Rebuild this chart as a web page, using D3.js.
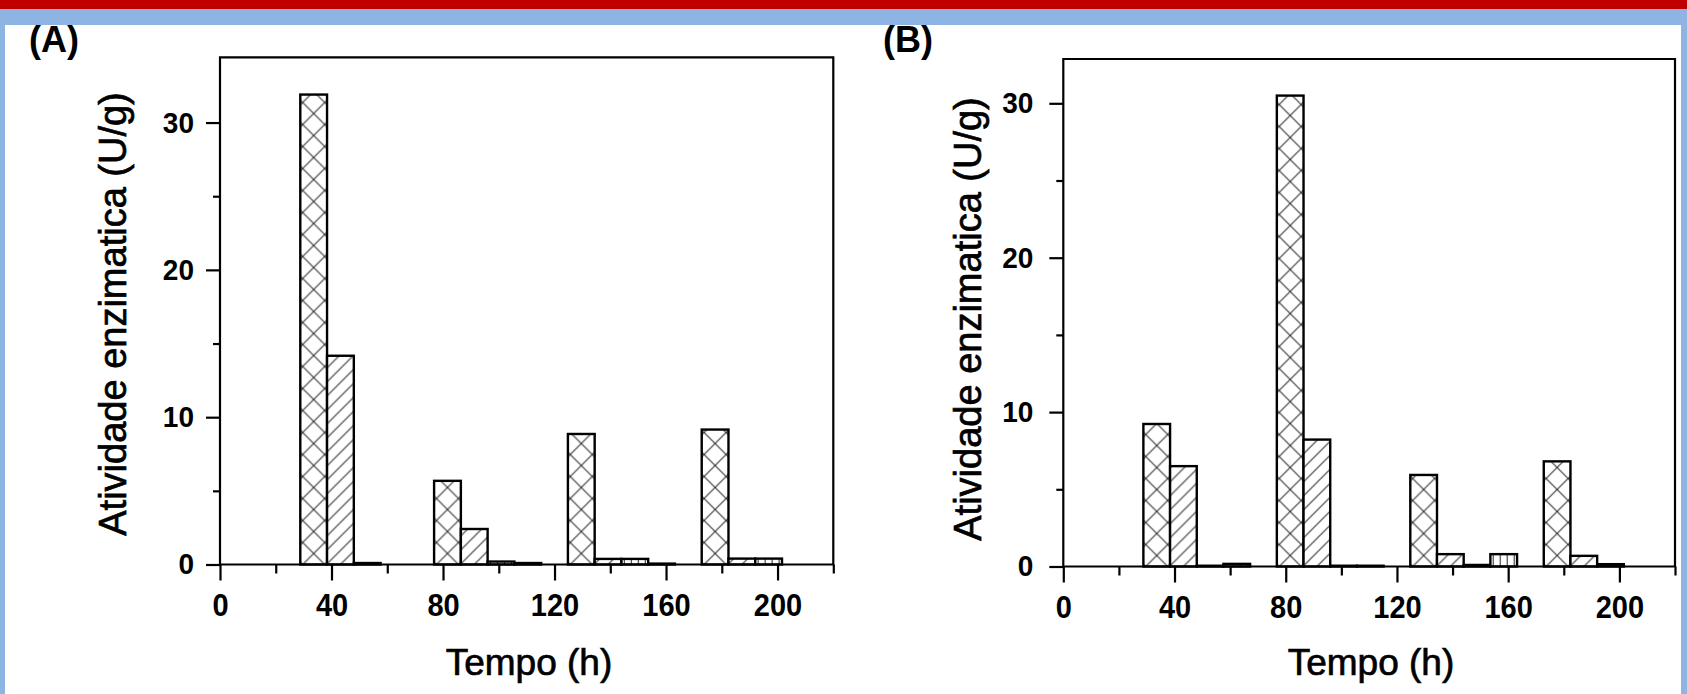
<!DOCTYPE html>
<html>
<head>
<meta charset="utf-8">
<script src="https://cdn.jsdelivr.net/npm/d3@7"></script>
<style>
  body { margin: 0; background: #fff; }
  svg { display: block; font-family: Arial, "Liberation Sans", sans-serif; }
</style>
</head>
<body>
<svg id="chart" width="1687" height="694"></svg>
<script>
// sampling times (h) and the four bars of every group
const hours = [48, 96, 144, 192];
const patterns = ['cross', 'diag', 'vert', 'vert'];

// panel A values (U/g)
const aCross = [31.9, 5.68, 8.86, 9.16];
const aDiag = [14.17, 2.41, 0.38, 0.4];
const aVert = [0.1, 0.2, 0.38, 0.4];
const aLast = [0, 0.1, 0.06, 0];

// panel B values (U/g)
const bCross = [9.23, 30.5, 5.93, 6.81];
const bDiag = [6.5, 8.22, 0.8, 0.69];
const bVert = [0.05, 0.05, 0.1, 0.15];
const bLast = [0.17, 0.05, 0.8, 0];

const xTicks = [0, 40, 80, 120, 160, 200];
const xMinor = [20, 60, 100, 140, 180, 220];
const yTicks = [0, 10, 20, 30];
const yMinor = [5, 15, 25];

const barWidth = 9.6; // hours

const svg = d3.select('#chart');
const defs = svg.append('defs');
let patId = 0;

// page decoration (slide borders)
svg.append('rect').attr('width', 1687).attr('height', 694).attr('fill', '#fff');
svg.append('rect').attr('x', 0).attr('y', 9).attr('width', 1687).attr('height', 16).attr('fill', '#8db4e2');
svg.append('rect').attr('x', 0).attr('y', 0).attr('width', 1687).attr('height', 9).attr('fill', '#c00000');
svg.append('rect').attr('x', 0).attr('y', 25).attr('width', 5).attr('height', 669).attr('fill', '#8db4e2');
svg.append('rect').attr('x', 1681).attr('y', 25).attr('width', 6).attr('height', 669).attr('fill', '#8db4e2');

function makePattern(kind, cx, by) {
    let id = 'p' + (patId++);
    let p = defs.append('pattern')
        .attr('id', id)
        .attr('patternUnits', 'userSpaceOnUse');
    let stroke = '#333';
    if (kind === 'cross') {
        let d = 22;
        p.attr('x', cx - d / 2).attr('y', by).attr('width', d).attr('height', d);
        p.append('rect').attr('width', d).attr('height', d).attr('fill', '#fff');
        p.append('path').attr('d', `M0,0L${d},${d}M0,${d}L${d},0`)
            .attr('stroke', stroke).attr('stroke-width', 1.1);
    } else if (kind === 'diag') {
        let d = 14;
        p.attr('x', cx).attr('y', by).attr('width', d).attr('height', d);
        p.append('rect').attr('width', d).attr('height', d).attr('fill', '#fff');
        p.append('path').attr('d', `M0,${d}L${d},0M-2,2L2,-2M${d - 2},${d + 2}L${d + 2},${d - 2}`)
            .attr('stroke', stroke).attr('stroke-width', 1.1);
    } else {
        let d = 7;
        p.attr('x', cx).attr('y', by).attr('width', d).attr('height', 10);
        p.append('rect').attr('width', d).attr('height', 10).attr('fill', '#fff');
        p.append('path').attr('d', `M${d / 2},0V10`)
            .attr('stroke', stroke).attr('stroke-width', 1.1);
    }
    return 'url(#' + id + ')';
}

function drawPanel(cfg) {
    let x = d3.scaleLinear().domain([0, 220]).range([cfg.left, cfg.right]);
    let y = d3.scaleLinear().domain([0, cfg.yMax]).range([cfg.bottom, cfg.top]);
    let g = svg.append('g');

    // bars
    let bars = [];
    cfg.series.forEach(function(values, si) {
        values.forEach(function(v, gi) {
            if (v <= 0) return;
            bars.push({h: hours[gi] - 2 * barWidth + si * barWidth, v: v, kind: patterns[si]});
        });
    });
    g.selectAll('rect.bar')
        .data(bars)
        .enter()
        .append('rect')
        .attr('class', 'bar')
        .attr('x', d => x(d.h))
        .attr('width', d => x(d.h + barWidth) - x(d.h))
        .attr('y', d => y(d.v))
        .attr('height', d => y(0) - y(d.v))
        .attr('fill', d => makePattern(d.kind, x(d.h + barWidth / 2), y(0)))
        .attr('stroke', '#000')
        .attr('stroke-width', 2.4);

    // frame
    g.append('path')
        .attr('d', `M${cfg.left},${cfg.bottom}V${cfg.top}H${cfg.right}V${cfg.bottom}Z`)
        .attr('fill', 'none')
        .attr('stroke', '#000')
        .attr('stroke-width', 2.2);

    // y axis
    let yAxis = g.append('g')
        .attr('transform', `translate(${cfg.left},0)`)
        .call(d3.axisLeft(y).tickValues(yTicks).tickSize(14).tickPadding(cfg.yPad).tickFormat(d3.format('d')));
    let yAxisMinor = g.append('g')
        .attr('transform', `translate(${cfg.left},0)`)
        .call(d3.axisLeft(y).tickValues(yMinor).tickSize(7).tickFormat(''));

    // x axis
    let xAxis = g.append('g')
        .attr('transform', `translate(0,${cfg.bottom})`)
        .call(d3.axisBottom(x).tickValues(xTicks).tickSize(16).tickPadding(10));
    let xAxisMinor = g.append('g')
        .attr('transform', `translate(0,${cfg.bottom})`)
        .call(d3.axisBottom(x).tickValues(xMinor).tickSize(9).tickFormat(''));

    [yAxis, yAxisMinor, xAxis, xAxisMinor].forEach(function(a) {
        a.select('.domain').remove();
        a.selectAll('line').attr('stroke', '#000').attr('stroke-width', 2.2);
        a.selectAll('text')
            .attr('fill', '#000')
            .style('font-size', '28px')
            .style('font-weight', 'bold')
            .style('font-family', 'Arial, "Liberation Sans", sans-serif');
    });
    // tick digits in the original are a little taller than wide
    xAxis.selectAll('text').style('font-size', '29px').attr('transform', 'scale(1,1.1)');
    yAxis.selectAll('text').attr('transform', 'scale(1,1.06)');

    // labels
    svg.append('text')
        .attr('transform', `translate(${cfg.yLabelX},${cfg.yLabelY}) rotate(-90)`)
        .attr('text-anchor', 'middle')
        .attr('stroke', '#000')
        .attr('stroke-width', 0.7)
        .style('font-size', '38px')
        .text('Atividade enzimatica (U/g)');
    svg.append('text')
        .attr('x', cfg.xLabelX)
        .attr('y', 675)
        .attr('text-anchor', 'middle')
        .attr('stroke', '#000')
        .attr('stroke-width', 0.7)
        .style('font-size', '37px')
        .text('Tempo (h)');
    svg.append('text')
        .attr('x', cfg.tagX)
        .attr('y', 52)
        .style('font-size', '36px')
        .style('font-weight', 'bold')
        .text(cfg.tag);
}

drawPanel({
    tag: '(A)', tagX: 29,
    left: 220, right: 833.3, top: 57.3, bottom: 564.5, yMax: 34.43,
    yPad: 12, yLabelX: 126, yLabelY: 314, xLabelX: 529,
    series: [aCross, aDiag, aVert, aLast]
});
drawPanel({
    tag: '(B)', tagX: 883,
    left: 1063.3, right: 1675, top: 59, bottom: 566.5, yMax: 32.87,
    yPad: 16, yLabelX: 981, yLabelY: 319, xLabelX: 1371,
    series: [bCross, bDiag, bVert, bLast]
});
</script>
</body>
</html>
